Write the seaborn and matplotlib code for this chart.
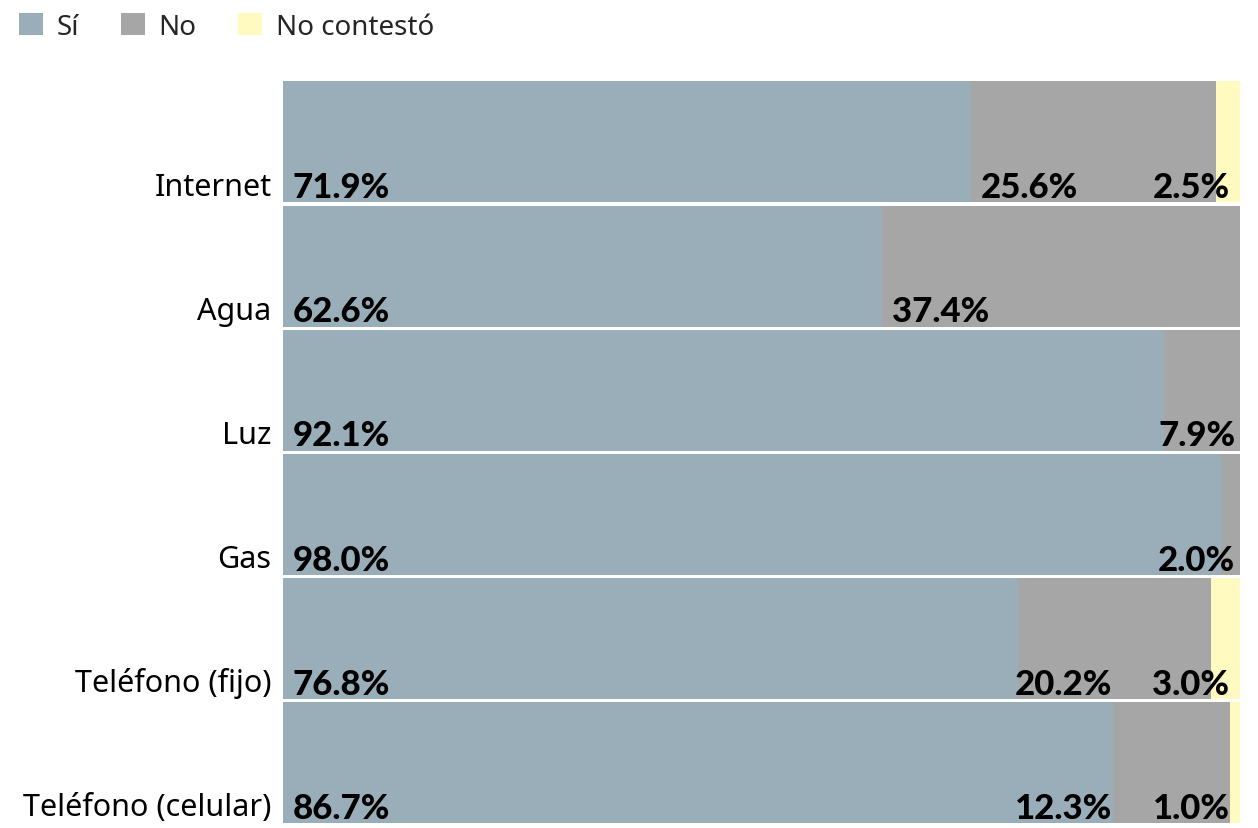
import pandas as pd
import matplotlib.pyplot as plt
import seaborn as sns
from matplotlib.patches import Patch

# Data (percent of respondents)
servicios = ["Internet", "Agua", "Luz", "Gas", "Teléfono (fijo)", "Teléfono (celular)"]
si = [71.9, 62.6, 92.1, 98.0, 76.8, 86.7]
no = [25.6, 37.4, 7.9, 2.0, 20.2, 12.3]
no_contesto = [2.5, 0.0, 0.0, 0.0, 3.0, 1.0]
series = ["Sí", "No", "No contestó"]
colores = ["#99aeb9", "#a6a6a6", "#fffac0"]

df = pd.DataFrame({"servicio": servicios, "si": si, "no": no, "nc": no_contesto})
df["si_no"] = df["si"] + df["no"]
df["total"] = df["si_no"] + df["nc"]

sns.set_theme(style="white")
plt.rcParams["font.family"] = ["Noto Sans", "DejaVu Sans"]

fig = plt.figure(figsize=(12.58, 8.29), dpi=100)
ax = fig.add_axes([0.225, 0.004, 0.7607, 0.8985])

# stacked bars: draw cumulative totals, largest first
for col, c in zip(["total", "si_no", "si"], colores[::-1]):
    sns.barplot(data=df, y="servicio", x=col, color=c, width=0.975,
                saturation=1, linewidth=0, ax=ax, orient="h")

ax.set_xlim(0, 100)
ax.set_ylim(len(servicios) - 0.5, -0.5)
ax.set_xlabel("")
ax.set_ylabel("")
ax.set_xticks([])
ax.set_yticks([])
sns.despine(ax=ax, left=True, bottom=True)

fig.canvas.draw()
renderer = fig.canvas.get_renderer()
inv = ax.transData.inverted()

num_font = dict(family="Lato", fontsize=25, fontweight="black", color="black")
base_off = 0.445  # baseline offset from row centre, in rows

for i, row in df.iterrows():
    yb = i + base_off
    # category name to the left of the bar
    ax.text(-1.2, yb - 0.02, row["servicio"], ha="right", va="baseline",
            fontsize=22, color="black")
    # Sí value at the start of the bar
    ax.text(1.0, yb, f"{row['si']:.1f}%", ha="left", va="baseline", **num_font)

    limite = 99.5
    if row["nc"] > 0:
        t = ax.text(98.9, yb, f"{row['nc']:.1f}%", ha="right", va="baseline", **num_font)
        x0 = inv.transform(t.get_window_extent(renderer).get_points())[0][0]
        limite = x0 - 4.2
    t = ax.text(row["si"] + 1.0, yb, f"{row['no']:.1f}%", ha="left", va="baseline", **num_font)
    pts = inv.transform(t.get_window_extent(renderer).get_points())
    ancho = pts[1][0] - pts[0][0]
    if row["si"] + 1.0 + ancho > limite:
        t.set_x(limite)
        t.set_ha("right")

handles = [Patch(facecolor=c, edgecolor="none") for c in colores]
fig.legend(handles, series, loc="upper left", bbox_to_anchor=(0.0, 1.007),
           ncol=3, frameon=False, fontsize=20, handlelength=0.85, handleheight=0.85,
           handletextpad=0.5, columnspacing=1.5, borderaxespad=0.3)

fig.savefig("out.png", dpi=100)
